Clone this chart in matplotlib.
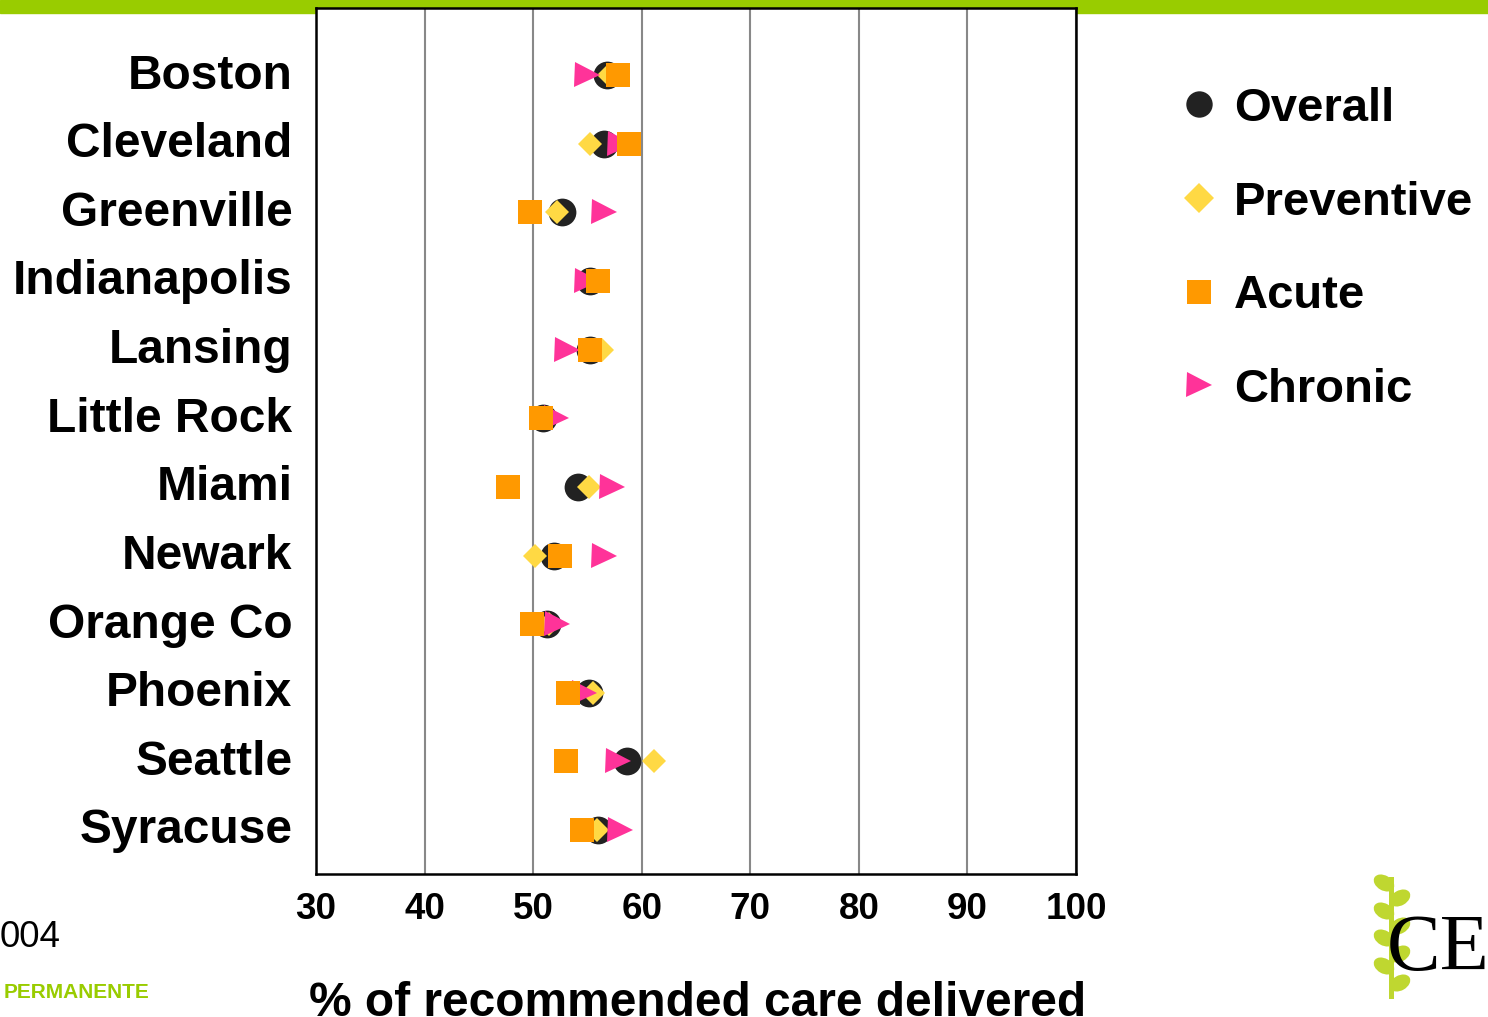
import numpy as np
import matplotlib
matplotlib.use('Agg')
import matplotlib.pyplot as plt
import matplotlib.transforms as mtransforms
from matplotlib.lines import Line2D
from matplotlib.patches import Ellipse, Rectangle

plt.rcParams['font.family'] = ['Liberation Sans', 'DejaVu Sans']

# 各城市推荐护理完成百分比
cities = ['Boston', 'Cleveland', 'Greenville', 'Indianapolis', 'Lansing',
          'Little Rock', 'Miami', 'Newark', 'Orange Co', 'Phoenix',
          'Seattle', 'Syracuse']
overall = [56.8, 56.5, 52.7, 55.2, 55.2, 50.9, 54.1, 51.9, 51.3, 55.1, 58.6, 56.0]
preventive = [57.0, 55.2, 52.2, 55.5, 56.3, 51.0, 55.1, 50.2, 51.5, 55.5, 61.1, 55.9]
acute = [57.8, 58.8, 49.7, 56.0, 55.2, 50.7, 47.7, 52.5, 49.9, 53.2, 53.0, 54.5]
chronic = [55.0, 58.0, 56.5, 55.0, 53.1, 52.1, 57.3, 56.5, 52.2, 54.7, 57.8, 58.0]
xticks = [30, 40, 50, 60, 70, 80, 90, 100]

W, H = 1488, 1017
fig = plt.figure(figsize=(W / 100, H / 100), dpi=100)

# 顶部绿色条
fig.add_artist(Rectangle((0, 1 - 13 / H), 1, 13 / H, transform=fig.transFigure,
                         color='#99CC00', zorder=0))

ax = fig.add_axes([316 / W, 1 - 874 / H, 760 / W, 866 / H])
ax.set_zorder(2)
y = np.arange(len(cities))

ax.plot(overall, y, 'o', ls='none', color='#222222', ms=20, mew=0, zorder=3, label='Overall')
ax.plot(preventive, y, 'D', ls='none', color='#FFD944', ms=12, mew=0, zorder=4, label='Preventive')
ax.plot(chronic, y, '>', ls='none', color='#FF3399', ms=18, mew=0, zorder=5, label='Chronic')
ax.plot(acute, y, 's', ls='none', color='#FF9900', ms=17, mew=0, zorder=6, label='Acute')

ax.set_xlim(30, 100)
ax.set_ylim(11.64, -0.98)
ax.set_yticks(y)
ax.set_yticklabels(cities, fontsize=34.5, fontweight='bold')
ax.set_xticks(xticks)
ax.set_xticklabels([str(t) for t in xticks], fontsize=26.5, fontweight='bold')
ax.tick_params(axis='both', length=0)
ax.tick_params(axis='y', pad=17)
ax.tick_params(axis='x', pad=13)
# 城市名稍微上移
up = mtransforms.ScaledTranslation(0, 3 / 72, fig.dpi_scale_trans)
for lbl in ax.get_yticklabels():
    lbl.set_transform(lbl.get_transform() + up)
ax.grid(axis='x', color='#888888', lw=1.5)
ax.set_axisbelow(True)
for sp in ax.spines.values():
    sp.set_linewidth(1.8)
    sp.set_color('black')

fig.text(698 / W, 1 - 1016 / H, '% of recommended care delivered', fontsize=34.5,
         fontweight='bold', ha='center', va='baseline')

# 图例
handles = [
    Line2D([], [], marker='o', ls='none', color='#222222', ms=19, mew=0),
    Line2D([], [], marker='D', ls='none', color='#FFD944', ms=15, mew=0),
    Line2D([], [], marker='s', ls='none', color='#FF9900', ms=17, mew=0),
    Line2D([], [], marker='>', ls='none', color='#FF3399', ms=18, mew=0),
]
ax.legend(handles, ['Overall', 'Preventive', 'Acute', 'Chronic'],
          loc='upper left', bbox_to_anchor=(1180 / W, 1 - 87 / H),
          bbox_transform=fig.transFigure, frameon=False,
          prop={'size': 34, 'weight': 'bold'}, labelspacing=1.05,
          handlelength=0.8, handletextpad=0.35, borderpad=0, borderaxespad=0,
          numpoints=1)

# 左下角文字
fig.text(0, 1 - 947 / H, '004', fontsize=26.5, ha='left', va='baseline')
fig.text(4 / W, 1 - 998 / H, 'PERMANENTE', fontsize=15, fontweight='bold',
         color='#99CC00', ha='left', va='baseline')

# 右下角标志：麦穗 + CE
lax = fig.add_axes([1360 / W, 1 - 1005 / H, 70 / W, 140 / H])
lax.set_xlim(0, 70)
lax.set_ylim(140, 0)
lax.axis('off')
leaf = '#BFD730'
lax.add_patch(Rectangle((29, 12), 5, 122, color=leaf, lw=0))
for cy in [18, 46, 73, 101]:
    lax.add_patch(Ellipse((24, cy), 22, 15, angle=30, color=leaf, lw=0))
for cy in [33, 61, 89, 118]:
    lax.add_patch(Ellipse((40, cy), 22, 15, angle=-30, color=leaf, lw=0))
fig.text(1387 / W, 1 - 970 / H, 'CE', fontsize=58, family='Liberation Serif',
         ha='left', va='baseline', zorder=5)

fig.savefig('out.png', dpi=100)
